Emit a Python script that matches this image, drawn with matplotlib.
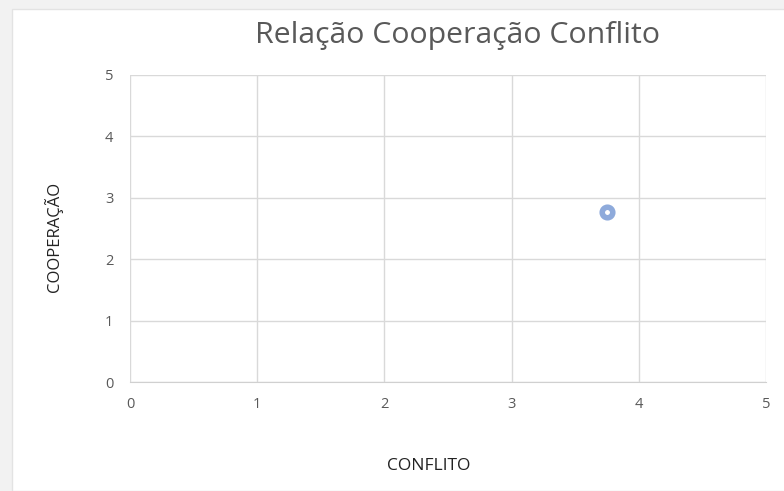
import matplotlib.pyplot as plt
from matplotlib.patches import Rectangle

# data
conflito = [3.75]
cooperacao = [2.77]
x_ticks = [0, 1, 2, 3, 4, 5]
y_ticks = [0, 1, 2, 3, 4, 5]

plt.rcParams['font.family'] = ['Open Sans', 'DejaVu Sans']

fig = plt.figure(figsize=(7.84, 4.91), dpi=100)
fig.patch.set_facecolor('#f2f2f2')
# white chart area (screenshot has a light grey border top and left)
fig.patches.append(Rectangle((12 / 784, 0), 1, 1 - 9 / 491, transform=fig.transFigure,
                             facecolor='white', edgecolor='#e3e3e3', linewidth=1, zorder=-10))

ax = fig.add_axes([130 / 784, 1 - 382 / 491, 636 / 784, 307 / 491])
ax.set_facecolor('none')

ax.plot(conflito, cooperacao, 'o', markersize=7.6, markerfacecolor='white',
        markeredgecolor='#8eaadb', markeredgewidth=4, zorder=5, clip_on=False)

ax.set_xlim(0, 5)
ax.set_ylim(0, 5)
ax.set_xticks(x_ticks)
ax.set_yticks(y_ticks)
ax.grid(True, color='#d9d9d9', linewidth=1)
ax.set_axisbelow(True)
for s in ['top', 'right', 'left']:
    ax.spines[s].set_visible(False)
ax.spines['bottom'].set_color('#d0d0d0')
ax.tick_params(length=0, labelsize=10.5, colors='#595959', pad=11)
ax.tick_params(axis='y', pad=12)

ax.set_xlabel('CONFLITO', fontsize=12.5, color='#222222', labelpad=33)
ax.set_ylabel('COOPERAÇÃO', fontsize=12, color='#222222', labelpad=30)
# labels in the reference sit a bit off the axis centre
ax.xaxis.label.set_x(0.469)
ax.yaxis.label.set_y(0.472)

fig.text(458 / 784, 1 - 36 / 491, 'Relação Cooperação Conflito', ha='center', va='center',
         fontsize=21.8, color='#595959')

fig.savefig('out.png', dpi=100, facecolor=fig.get_facecolor())
